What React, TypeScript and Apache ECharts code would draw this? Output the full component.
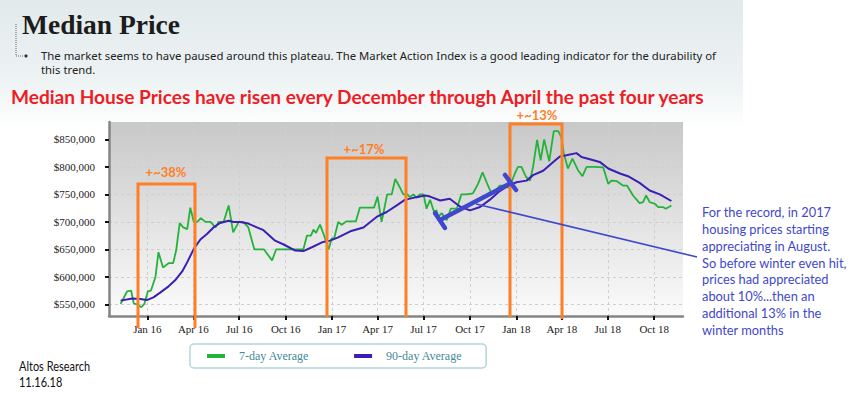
import React, { useEffect, useRef } from 'react';
import * as echarts from 'echarts';

// ---- Data ----
const sevenDayDates = [
  '2015-11-09','2015-11-22','2015-11-30','2015-12-05','2015-12-12','2015-12-20','2015-12-26',
  '2016-01-02','2016-01-08','2016-01-17','2016-01-23','2016-02-01','2016-02-12','2016-02-21','2016-02-27',
  '2016-03-05','2016-03-12','2016-03-20','2016-03-26','2016-04-02','2016-04-09','2016-04-16','2016-04-25',
  '2016-05-05','2016-05-15','2016-05-21','2016-05-31','2016-06-10','2016-06-19','2016-06-30','2016-07-09',
  '2016-07-19','2016-07-31','2016-08-12','2016-08-19','2016-09-04','2016-09-12','2016-09-27','2016-10-16',
  '2016-11-05','2016-11-12','2016-11-20','2016-11-25','2016-11-30','2016-12-08','2016-12-15','2016-12-25',
  '2016-12-31','2017-01-05','2017-01-13','2017-01-20','2017-01-29','2017-02-17','2017-02-25','2017-03-11',
  '2017-03-25','2017-04-01','2017-04-09','2017-04-20','2017-04-29','2017-05-06','2017-05-15','2017-05-22',
  '2017-05-30','2017-06-04','2017-06-11','2017-06-17','2017-06-24','2017-07-01','2017-07-07','2017-07-14',
  '2017-07-22','2017-07-27','2017-07-30','2017-08-06','2017-08-16','2017-08-24','2017-09-05','2017-09-14',
  '2017-09-24','2017-10-07','2017-10-17','2017-10-26','2017-11-03','2017-11-13','2017-11-21','2017-11-29',
  '2017-12-09','2017-12-16','2017-12-22','2017-12-29','2018-01-04','2018-01-11','2018-01-20','2018-01-28',
  '2018-02-03','2018-02-11','2018-02-18','2018-02-25','2018-03-07','2018-03-16','2018-03-25','2018-03-31',
  '2018-04-05','2018-04-13','2018-04-22','2018-05-03','2018-05-12','2018-05-20','2018-06-05','2018-06-22',
  '2018-07-02','2018-07-08','2018-07-19','2018-07-31','2018-08-08','2018-08-20','2018-09-02','2018-09-09',
  '2018-09-15','2018-09-22','2018-10-02','2018-10-09','2018-10-18','2018-10-24','2018-10-30','2018-11-04',
];
const sevenDayValues = [
  551000,574000,575000,552000,550000,545000,551000,
  574000,575000,600000,645000,617000,625000,625000,648000,
  698000,690000,687000,726000,700000,700000,707000,700000,
  700000,690000,700000,700000,730000,681000,700000,700000,
  690000,650000,650000,650000,630000,650000,650000,650000,
  650000,675000,675000,686000,680000,695000,678000,650000,
  670000,670000,700000,695000,701000,701000,726000,726000,
  726000,746000,700000,750000,750000,778000,763000,750000,
  750000,745000,750000,744000,750000,750000,724000,740000,
  718000,721000,709000,716000,703000,724000,724000,750000,
  750000,752000,769000,790000,772000,751000,757000,766000,
  766000,762000,772000,788000,800000,800000,782000,775000,
  800000,849000,812000,850000,810000,865000,865000,854000,
  824000,797000,815000,794000,783000,800000,800000,799000,
  769000,775000,774000,766000,766000,748000,734000,736000,
  748000,736000,733000,727000,727000,724000,727000,730000,
];
const ninetyDayDates = [
  '2015-11-09','2015-12-02','2015-12-18','2015-12-31','2016-01-13','2016-01-27','2016-02-12','2016-02-25',
  '2016-03-10','2016-03-20','2016-04-02','2016-04-15','2016-04-28','2016-05-11','2016-05-24','2016-06-10',
  '2016-06-20','2016-07-03','2016-07-19','2016-08-05','2016-08-18','2016-09-10','2016-09-27','2016-10-20',
  '2016-11-05','2016-11-22','2016-12-12','2016-12-28','2017-01-13','2017-02-06','2017-03-04','2017-03-30',
  '2017-04-19','2017-05-09','2017-05-25','2017-06-17','2017-07-04','2017-07-14','2017-08-03','2017-08-22',
  '2017-09-11','2017-10-01','2017-10-21','2017-11-09','2017-11-29','2017-12-16','2018-01-01','2018-01-21',
  '2018-02-03','2018-02-23','2018-03-15','2018-03-28','2018-04-10','2018-04-30','2018-05-10','2018-05-30',
  '2018-06-15','2018-07-02','2018-07-25','2018-08-10','2018-09-02','2018-09-22','2018-10-12','2018-11-04',
];
const ninetyDayValues = [
  557000,561000,560000,558000,563000,572000,583000,594000,
  610000,627000,651000,668000,678000,690000,698000,702000,
  700000,700000,697000,690000,685000,666000,659000,648000,
  647000,654000,663000,666000,672000,683000,690000,709000,
  718000,730000,740000,745000,748000,746000,739000,742000,
  728000,721000,727000,740000,756000,766000,772000,775000,
  785000,793000,809000,819000,821000,825000,818000,813000,
  809000,797000,788000,783000,771000,757000,750000,738000,
];
const seriesNames = ['7-day Average', '90-day Average'];
const monthNames = ['Jan','Feb','Mar','Apr','May','Jun','Jul','Aug','Sep','Oct','Nov','Dec'];
const quarterMonths = [0, 3, 6, 9];
const yLabelStep = 50000;
const xMin = '2015-10-17';
const xMax = '2018-11-27';
const yMin = 529100;
const yMax = 881500;

const boxLabels = ['+~38%', '+~17%', '+~13%'];
const noteLines = [
  'For the record, in 2017',
  'housing prices starting',
  'appreciating in August.',
  'So before winter even hit,',
  'prices had appreciated',
  'about 10%...then an',
  'additional 13% in the',
  'winter months',
];

const GREEN = '#23b33b';
const PURPLE = '#3b1fb2';
const ORANGE = '#ff7f27';
const BLUE = '#3f48cc';

function fitScale(text: string, font: string, target: number) {
  try {
    const ctx = document.createElement('canvas').getContext('2d');
    if (!ctx) return 1;
    ctx.font = font;
    const w = ctx.measureText(text).width;
    if (!w) return 1;
    return Math.max(0.75, Math.min(1.3, target / w));
  } catch (e) {
    return 1;
  }
}

function money(v: number) {
  return '$' + String(Math.round(v)).replace(/\B(?=(\d{3})+(?!\d))/g, ',');
}

export default function App() {
  const ref = useRef<HTMLDivElement>(null);
  useEffect(() => {
    if (!ref.current) return;
    const chart = echarts.init(ref.current, null, { renderer: 'svg' });

    const titleFont = '600 28px "Liberation Serif"';
    const bulletFont = '11px "Noto Sans"';
    const bulletText1 = 'The market seems to have paused around this plateau. The Market Action Index is a good leading indicator for the durability of';
    const bulletScale = fitScale(bulletText1, bulletFont, 676);
    const redFont = 'bold 18px Lato';
    const redText = 'Median House Prices have risen every December through April the past four years';
    const redScale = fitScale(redText, redFont, 695);
    const noteFont = '14px Lato';
    const noteScale = fitScale(noteLines[3], noteFont, 145);
    const titleScale = fitScale('Median Price', titleFont, 158);
    const srcFont = '13px Lato';
    const srcScale = fitScale('Altos Research', srcFont, 71);

    const boxes = [
      { pts: [[138, 328], [138, 184], [195, 184], [195, 328]], lx: 166, ly: 172 },
      { pts: [[327, 317], [327, 158], [406, 158], [406, 317]], lx: 364, ly: 149 },
      { pts: [[510, 317], [510, 124], [562, 124], [562, 319]], lx: 537, ly: 115 },
    ];

    const graphics: any[] = [
      {
        type: 'rect', z: -10, silent: true,
        shape: { x: 0, y: 0, width: 743, height: 128 },
        style: {
          fill: new echarts.graphic.LinearGradient(0, 0, 0, 1, [
            { offset: 0, color: '#e2eaec' },
            { offset: 0.65, color: '#eef3f4' },
            { offset: 1, color: '#ffffff' },
          ]),
        },
      },
      {
        type: 'text', x: 22, y: 24, scaleX: titleScale,
        style: { text: 'Median Price', font: titleFont, fill: '#1c1c1c', verticalAlign: 'middle', align: 'left' },
      },
      {
        type: 'polyline', shape: { points: [[16, 24], [16, 56], [23, 56]] },
        style: { stroke: '#666', lineWidth: 1, lineDash: [1, 1], fill: 'none' },
      },
      { type: 'circle', shape: { cx: 26, cy: 56, r: 1.6 }, style: { fill: '#333' } },
      {
        type: 'text', x: 41, y: 56, scaleX: bulletScale,
        style: { text: bulletText1, font: bulletFont, fill: '#222', verticalAlign: 'middle' },
      },
      {
        type: 'text', x: 41, y: 70, scaleX: bulletScale,
        style: { text: 'this trend.', font: bulletFont, fill: '#222', verticalAlign: 'middle' },
      },
      {
        type: 'text', x: 11, y: 97, scaleX: redScale,
        style: { text: redText, font: redFont, fill: '#ee1c24', verticalAlign: 'middle' },
      },
      {
        type: 'text', x: 19, y: 366, scaleX: srcScale,
        style: { text: 'Altos Research', font: srcFont, fill: '#111', verticalAlign: 'middle' },
      },
      {
        type: 'text', x: 19, y: 382, scaleX: srcScale,
        style: { text: '11.16.18', font: srcFont, fill: '#111', verticalAlign: 'middle' },
      },
    ];

    boxes.forEach((b, i) => {
      graphics.push({
        type: 'polyline', z: 50, shape: { points: b.pts },
        style: { stroke: ORANGE, lineWidth: 3, fill: 'none' },
      });
      graphics.push({
        type: 'text', z: 50, x: b.lx, y: b.ly,
        style: { text: boxLabels[i], font: 'bold 13px Lato', fill: ORANGE, align: 'center', verticalAlign: 'middle' },
      });
    });

    // blue annotations
    graphics.push({
      type: 'line', z: 60, shape: { x1: 476, y1: 204, x2: 697, y2: 257 },
      style: { stroke: BLUE, lineWidth: 1.6 },
    });
    graphics.push({
      type: 'line', z: 61, shape: { x1: 440, y1: 220, x2: 511, y2: 183 },
      style: { stroke: BLUE, lineWidth: 4.5, lineCap: 'round' },
    });
    graphics.push({
      type: 'line', z: 61, shape: { x1: 435, y1: 213, x2: 445, y2: 228 },
      style: { stroke: BLUE, lineWidth: 4.5, lineCap: 'round' },
    });
    graphics.push({
      type: 'line', z: 61, shape: { x1: 505, y1: 175, x2: 516, y2: 190 },
      style: { stroke: BLUE, lineWidth: 4.5, lineCap: 'round' },
    });
    noteLines.forEach((t, i) => {
      graphics.push({
        type: 'text', x: 702, y: 212 + i * 16.8, scaleX: noteScale,
        style: { text: t, font: noteFont, fill: BLUE, verticalAlign: 'middle' },
      });
    });

    const option: any = {
      animation: false,
      backgroundColor: '#ffffff',
      grid: {
        left: 109, right: 177, top: 122, bottom: 79,
        show: true, borderWidth: 0,
        backgroundColor: new echarts.graphic.LinearGradient(0, 0, 0, 1, [
          { offset: 0, color: '#c8c8c8' },
          { offset: 1, color: '#fbfbfb' },
        ]),
      },
      legend: {
        left: 190, top: 344,
        data: seriesNames,
        icon: 'rect', itemWidth: 18, itemHeight: 4, itemGap: 45,
        padding: [6, 24, 6, 17],
        borderColor: '#b3d5db', borderWidth: 1.5, borderRadius: 4,
        backgroundColor: '#ffffff',
        textStyle: { fontFamily: '"Liberation Serif"', fontSize: 12, color: '#3f8a97', padding: [0, 0, 0, 9] },
      },
      xAxis: {
        type: 'time',
        min: xMin, max: xMax,
        splitNumber: 12,
        minInterval: 90 * 24 * 3600 * 1000,
        maxInterval: 92 * 24 * 3600 * 1000,
        axisLine: { show: true, lineStyle: { color: '#858585', width: 2.5 } },
        axisTick: { show: true, length: 4, lineStyle: { color: '#111', width: 2 } },
        axisLabel: {
          showMinLabel: false, showMaxLabel: false, hideOverlap: false,
          margin: 7,
          fontFamily: '"Liberation Serif"', fontSize: 11, color: '#222',
          formatter: (v: number) => {
            const d = new Date(v);
            if (quarterMonths.indexOf(d.getMonth()) < 0 || d.getDate() !== 1) return '';
            return monthNames[d.getMonth()] + ' ' + String(d.getFullYear()).slice(2);
          },
        },
        splitLine: { show: true, showMinLine: false, showMaxLine: false, lineStyle: { color: '#cfcfcf', type: [3, 3], width: 1 } },
      },
      yAxis: {
        type: 'value',
        min: yMin, max: yMax,
        splitNumber: 7,
        axisLine: { show: true, lineStyle: { color: '#858585', width: 2.5 } },
        axisTick: { show: true, length: 4, lineStyle: { color: '#111', width: 2 } },
        axisLabel: {
          margin: 14, showMinLabel: false, showMaxLabel: false,
          fontFamily: '"Liberation Serif"', fontSize: 11, color: '#222',
          formatter: (v: number) => (v % yLabelStep === 0 ? money(v) : ''),
        },
        splitLine: { show: true, showMinLine: false, showMaxLine: false, lineStyle: { color: '#cfcfcf', type: [3, 3], width: 1 } },
      },
      series: [
        {
          name: seriesNames[0], type: 'line', showSymbol: false, symbol: 'none',
          data: sevenDayDates.map((d, i) => [d, sevenDayValues[i]]),
          lineStyle: { color: GREEN, width: 1.8 }, itemStyle: { color: GREEN },
          z: 3,
        },
        {
          name: seriesNames[1], type: 'line', showSymbol: false, symbol: 'none',
          data: ninetyDayDates.map((d, i) => [d, ninetyDayValues[i]]),
          lineStyle: { color: PURPLE, width: 2 }, itemStyle: { color: PURPLE },
          z: 4,
        },
      ],
      graphic: { elements: graphics },
    };
    chart.setOption(option);
    return () => chart.dispose();
  }, []);

  return (
    <div
      ref={ref}
      style={{ position: 'fixed', left: 0, top: 0, width: 860, height: 395, background: '#fff' }}
    />
  );
}
